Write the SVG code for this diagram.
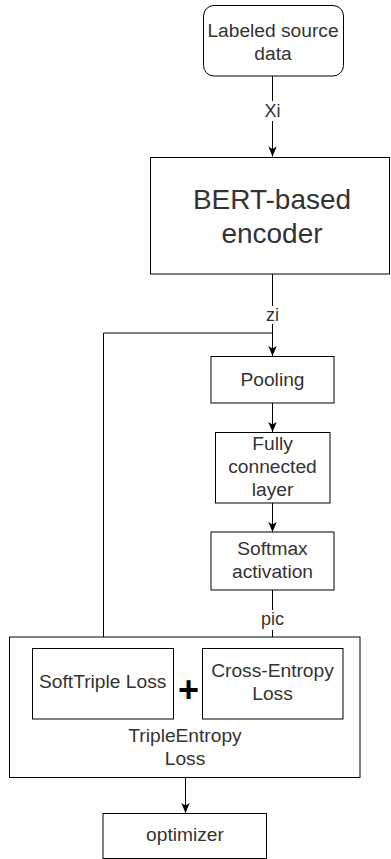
<svg xmlns="http://www.w3.org/2000/svg" width="391" height="859" viewBox="0 0 391 859">
<style>
.box{fill:#fff;stroke:#000;stroke-width:1}
.t{font-family:"Liberation Sans",Arial,sans-serif;font-size:19.2px;fill:#333;text-anchor:middle}
.big{font-size:28px}
.lbl{font-size:18px}
.edge{fill:none;stroke:#000;stroke-width:1}
.lblbg{fill:#fff}
.head{fill:#000;stroke:none}
</style>
<defs>
<marker id="arr" markerWidth="10" markerHeight="10" refX="10" refY="5" markerUnits="userSpaceOnUse" orient="auto" overflow="visible">
<path class="head" d="M0,0.8 L10,5 L0,9.2 L2.5,5 Z"/>
</marker>
</defs>
<rect width="391" height="859" fill="#fff"/>
<g id="connectors">
<path class="edge" d="M272.5,76 L272.5,156.5" marker-end="url(#arr)"/>
<path class="edge" d="M272.5,274 L272.5,356" marker-end="url(#arr)"/>
<path class="edge" d="M272.5,333 L103.5,333 L103.5,648" marker-end="url(#arr)"/>
<path class="edge" d="M272.5,403 L272.5,432" marker-end="url(#arr)"/>
<path class="edge" d="M272.5,503 L272.5,532" marker-end="url(#arr)"/>
<path class="edge" d="M272.5,590 L272.5,648" marker-end="url(#arr)"/>
<path class="edge" d="M185.5,777.5 L185.5,813" marker-end="url(#arr)"/>
<rect class="lblbg" x="262" y="101" width="21" height="20"/>
<text class="t lbl" x="272.5" y="116.7">Xi</text>
<rect class="lblbg" x="264" y="306" width="17" height="18"/>
<text class="t lbl" x="272.5" y="321">zi</text>
<rect class="lblbg" x="260" y="610" width="25" height="20"/>
<text class="t lbl" x="272.5" y="625">pic</text>
</g>
<g id="source">
<rect class="box" x="203.5" y="5.5" width="140" height="70.5" rx="10.5"/>
<text class="t" x="273" y="36.5">Labeled source</text>
<text class="t" x="273" y="59.5">data</text>
</g>
<g id="encoder">
<rect class="box" x="150.5" y="157.5" width="239" height="116.5"/>
<text class="t big" x="272" y="208.5">BERT-based</text>
<text class="t big" x="272" y="243">encoder</text>
</g>
<g id="pooling">
<rect class="box" x="211" y="356.5" width="123" height="46.5"/>
<text class="t" x="272.5" y="385.5">Pooling</text>
</g>
<g id="fc">
<rect class="box" x="215.5" y="432.5" width="114.5" height="70.5"/>
<text class="t" x="272.5" y="449.5">Fully</text>
<text class="t" x="272.5" y="472.7">connected</text>
<text class="t" x="272.5" y="496">layer</text>
</g>
<g id="softmax">
<rect class="box" x="211" y="532" width="123" height="58"/>
<text class="t" x="272.5" y="555">Softmax</text>
<text class="t" x="272.5" y="578">activation</text>
</g>
<g id="tripleentropy">
<rect class="box" x="9.5" y="637" width="350.5" height="140.5"/>
<text class="t" x="185" y="741.5">TripleEntropy</text>
<text class="t" x="185" y="764.5">Loss</text>
</g>
<g id="softtriple">
<rect class="box" x="32.5" y="648.5" width="141" height="70.5"/>
<text class="t" x="102.7" y="688">SoftTriple Loss</text>
</g>
<g id="plus">
<text class="t" x="188.5" y="702" style="font-size:36px;font-weight:bold;fill:#000">+</text>
</g>
<g id="crossentropy">
<rect class="box" x="202.5" y="648.5" width="140.5" height="70.5"/>
<text class="t" x="272.5" y="676.5">Cross-Entropy</text>
<text class="t" x="272.5" y="700">Loss</text>
</g>
<g id="optimizer">
<rect class="box" x="103" y="813.5" width="163.5" height="45"/>
<text class="t" x="185" y="841">optimizer</text>
</g>
</svg>
